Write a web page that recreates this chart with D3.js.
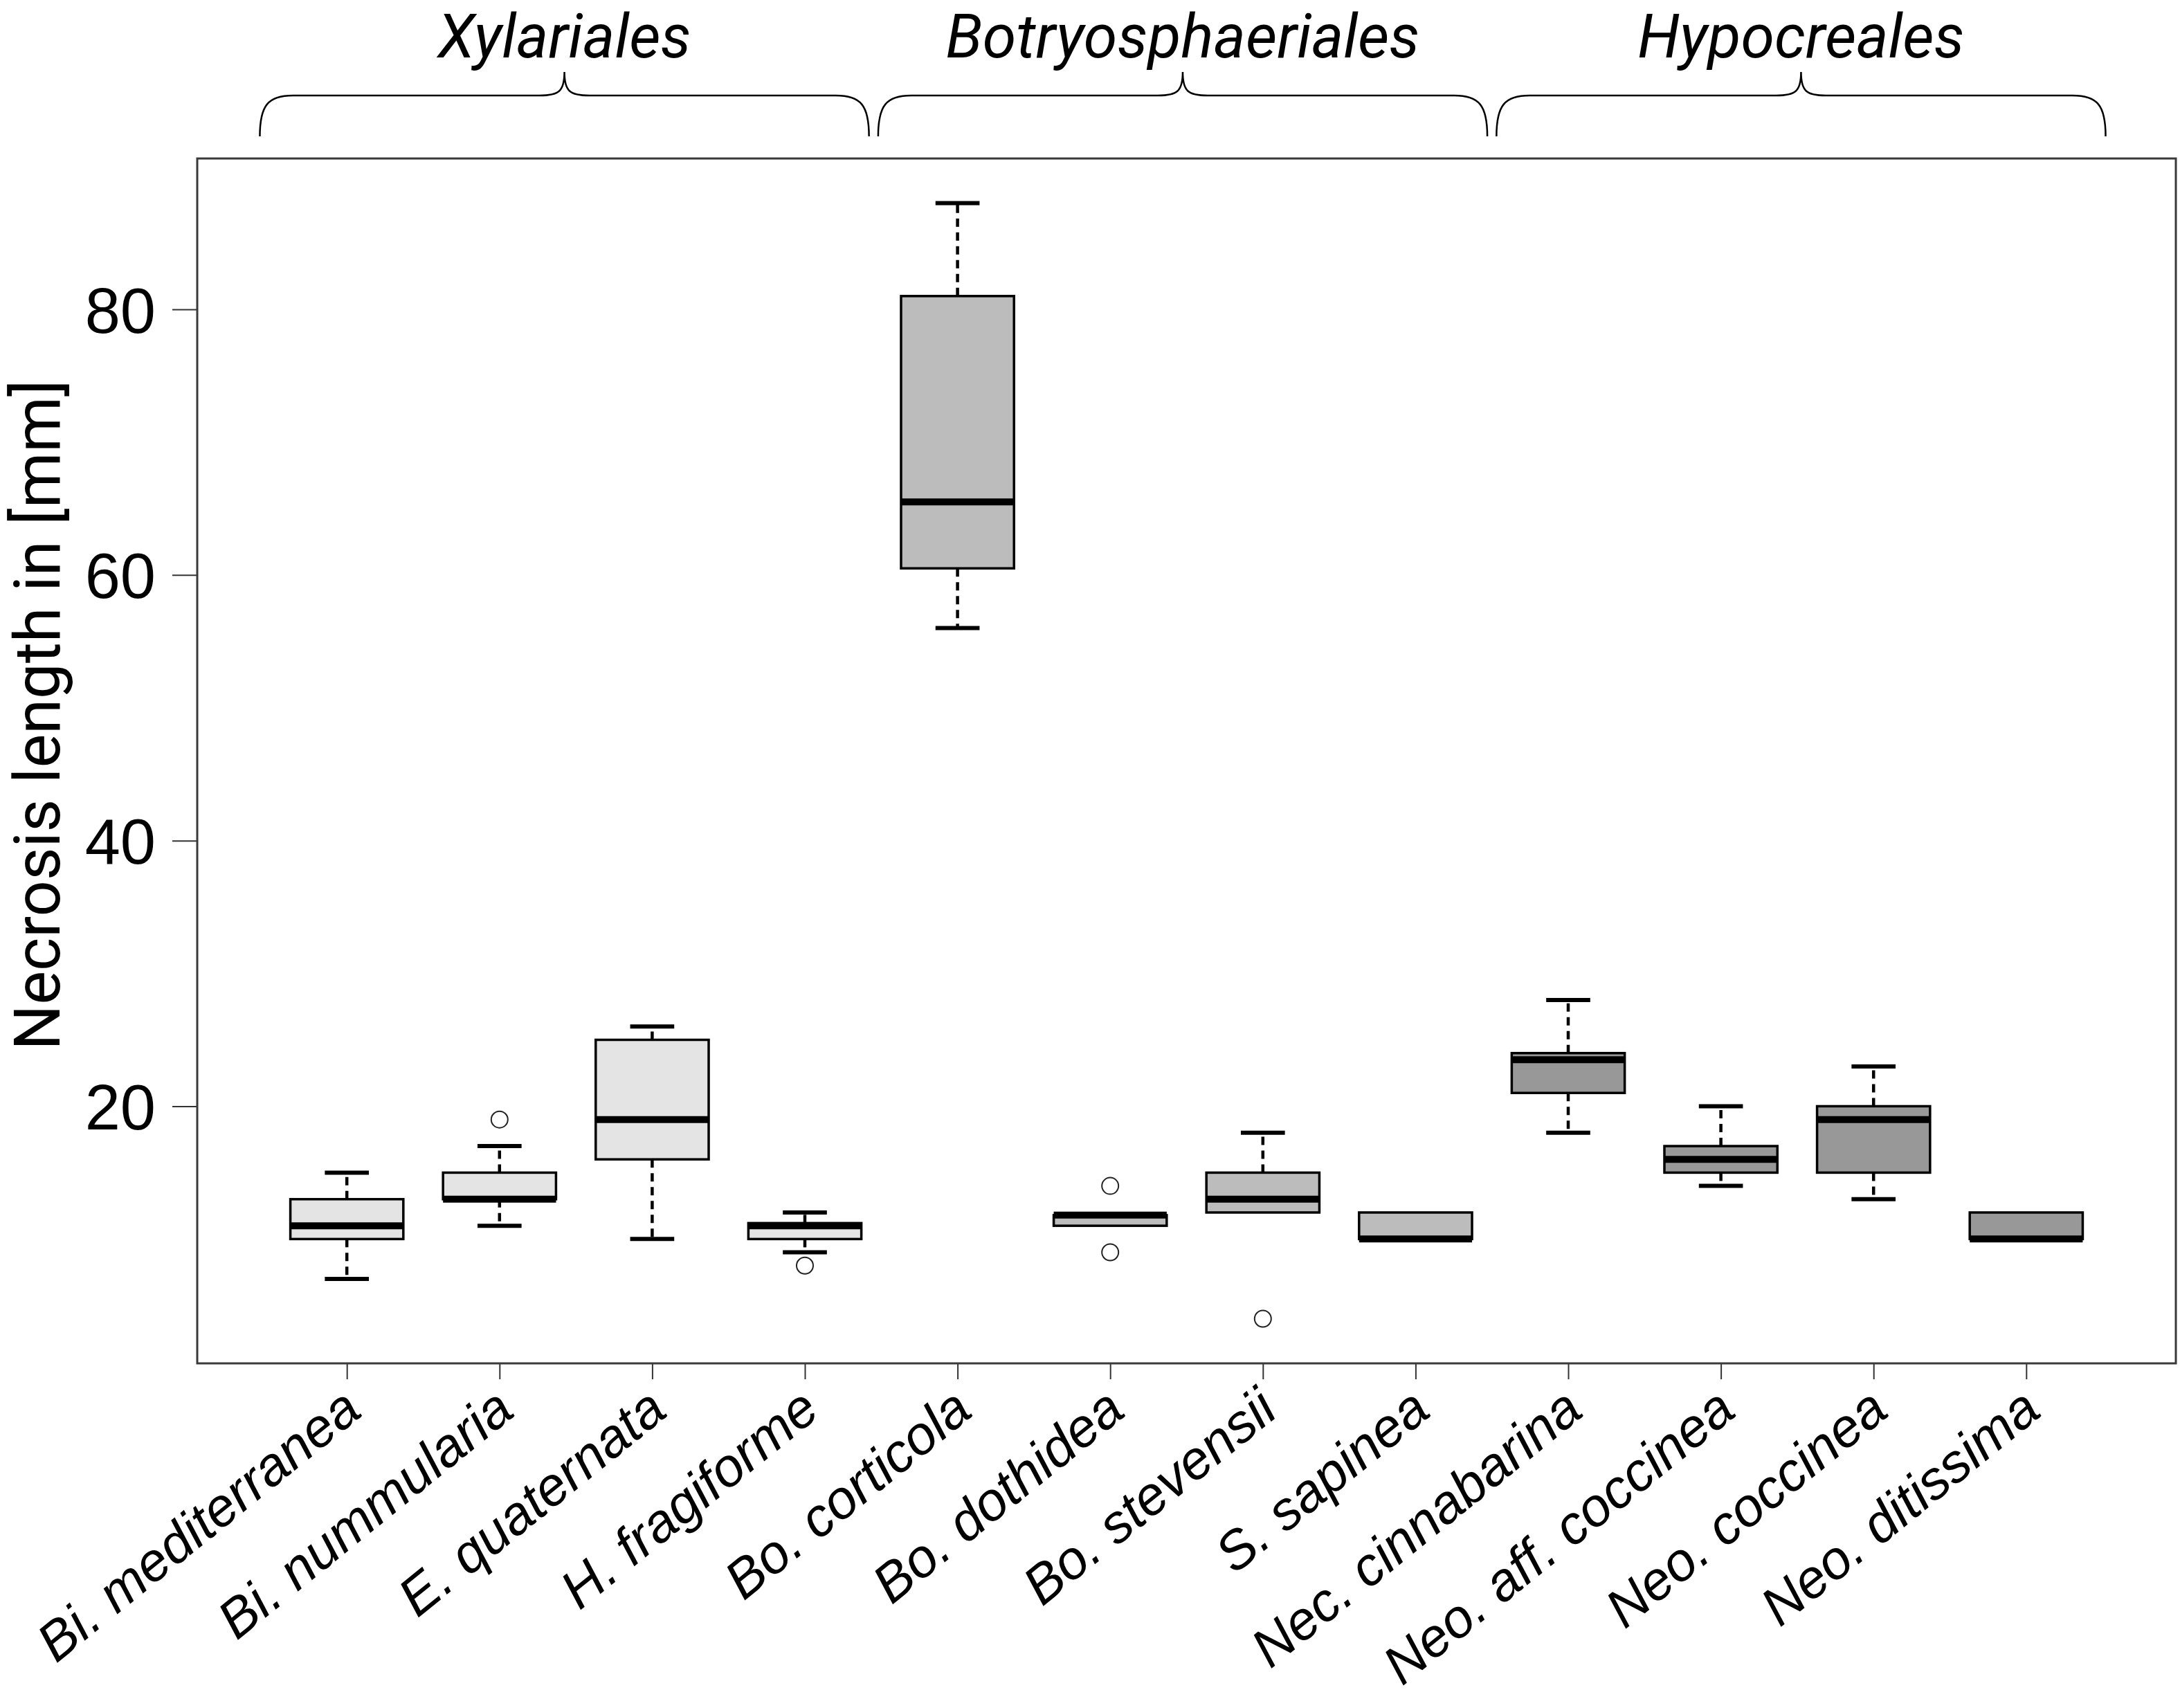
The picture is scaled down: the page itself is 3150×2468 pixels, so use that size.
<!DOCTYPE html>
<html>
<head>
<meta charset="utf-8">
<script src="https://cdn.jsdelivr.net/npm/d3@7"></script>
<style>
  html, body { margin: 0; padding: 0; background: #fff; }
  svg { display: block; font-family: Roboto, 'Noto Sans', sans-serif; }
</style>
</head>
<body>
<div id="chart"></div>
<script>
const SPECIES = [
  'Bi. mediterranea', 'Bi. nummularia', 'E. quaternata', 'H. fragiforme',
  'Bo. corticola', 'Bo. dothidea', 'Bo. stevensii', 'S. sapinea',
  'Nec. cinnabarina', 'Neo. aff. coccinea', 'Neo. coccinea', 'Neo. ditissima'
]
const SPECIES_ORDER = [0, 0, 0, 0, 1, 1, 1, 1, 2, 2, 2, 2]

// five-number summaries
const WHISKER_LOW  = [7, 11, 10, 9, 56, 11, 12, 10, 18, 14, 13, 10]
const Q1           = [10, 13, 16, 10, 60.5, 11, 12, 10, 21, 15, 15, 10]
const MEDIAN       = [11, 13, 19, 11, 65.5, 11.8, 13, 10, 23.5, 16, 19, 10]
const Q3           = [13, 15, 25, 11.2, 81, 11.8, 15, 12, 24, 17, 20, 12]
const WHISKER_HIGH = [15, 17, 26, 12, 88, 11.8, 18, 12, 28, 20, 23, 12]

const OUTLIER_SPECIES = [1, 3, 5, 5, 6]
const OUTLIER_VALUES  = [19, 8, 14, 9, 4]

const ORDERS = ['Xylariales', 'Botryosphaeriales', 'Hypocreales']
const ORDER_FILL = ['#e4e4e4', '#bcbcbc', '#989898']
// brace extent of each order, in category units
const ORDER_FROM = [0.43, 4.48, 8.53]
const ORDER_TO   = [4.42, 8.47, 12.52]

const Y_TICKS = [20, 40, 60, 80]

const SIZE = Object.freeze({ WIDTH: 3150, HEIGHT: 2468 }),
      PLOT = Object.freeze({ LEFT: 285, RIGHT: 3144, TOP: 229, BOTTOM: 1970 })

const n = SPECIES.length
const stats = SPECIES.map((name, i) => ({
  name,
  i: i + 1,
  order: SPECIES_ORDER[i],
  lo: WHISKER_LOW[i],
  q1: Q1[i],
  med: MEDIAN[i],
  q3: Q3[i],
  hi: WHISKER_HIGH[i]
}))
const outliers = OUTLIER_SPECIES.map((s, k) => ({ i: s + 1, v: OUTLIER_VALUES[k] }))

// R style limits: 4% padding around the data range
const xPad = 0.04 * n
const x = d3.scaleLinear()
  .domain([0.5 - xPad, n + 0.5 + xPad])
  .range([PLOT.LEFT, PLOT.RIGHT])

const allValues = WHISKER_LOW.concat(WHISKER_HIGH, OUTLIER_VALUES)
const [vMin, vMax] = d3.extent(allValues)
const yPad = 0.04 * (vMax - vMin)
const y = d3.scaleLinear()
  .domain([vMin - yPad, vMax + yPad])
  .range([PLOT.BOTTOM, PLOT.TOP])

const step = x(2) - x(1),
      boxW = step * 0.74,
      capW = boxW * 0.39

const svg = d3.select('#chart')
  .append('svg')
  .attr('width', SIZE.WIDTH)
  .attr('height', SIZE.HEIGHT)

svg.append('rect')
  .attr('width', SIZE.WIDTH)
  .attr('height', SIZE.HEIGHT)
  .attr('fill', '#fff')

// axes
const yAxis = d3.axisLeft(y)
  .tickValues(Y_TICKS)
  .tickSize(35)
  .tickPadding(24)

const gy = svg.append('g')
  .attr('transform', `translate(${PLOT.LEFT - 1},0)`)
  .call(yAxis)
gy.select('.domain').remove()
gy.selectAll('line').attr('stroke', '#333').attr('stroke-width', 2)
gy.selectAll('text')
  .attr('fill', '#000')
  .style('font-size', '92px')
  .attr('dy', '0.36em')

const xAxis = d3.axisBottom(x)
  .tickValues(d3.range(1, n + 1))
  .tickSize(23)
  .tickFormat(i => SPECIES[i - 1])

const gx = svg.append('g')
  .attr('transform', `translate(0,${PLOT.BOTTOM})`)
  .call(xAxis)
gx.select('.domain').remove()
gx.selectAll('line').attr('stroke', '#333').attr('stroke-width', 2)
gx.selectAll('text')
  .attr('fill', '#000')
  .attr('y', 0)
  .attr('dy', 0)
  .attr('text-anchor', 'end')
  .attr('transform', 'translate(24,74) rotate(-39)')
  .style('font-size', '78px')
  .style('font-style', 'italic')

svg.append('text')
  .attr('transform', `translate(86,1033) rotate(-90)`)
  .attr('text-anchor', 'middle')
  .style('font-size', '92px')
  .text('Necrosis length in [mm]')

// whiskers and caps
const whiskerParts = stats.flatMap(d => [
  { i: d.i, from: d.q3, to: d.hi },
  { i: d.i, from: d.q1, to: d.lo }
]).filter(w => w.from !== w.to)

svg.append('g')
  .selectAll('line')
  .data(whiskerParts)
  .join('line')
  .attr('x1', d => x(d.i))
  .attr('x2', d => x(d.i))
  .attr('y1', d => y(d.from))
  .attr('y2', d => y(d.to))
  .attr('stroke', '#000')
  .attr('stroke-width', 4.5)
  .attr('stroke-dasharray', '12,8')

svg.append('g')
  .selectAll('line')
  .data(whiskerParts)
  .join('line')
  .attr('x1', d => x(d.i) - capW / 2)
  .attr('x2', d => x(d.i) + capW / 2)
  .attr('y1', d => y(d.to))
  .attr('y2', d => y(d.to))
  .attr('stroke', '#000')
  .attr('stroke-width', 6)

// boxes and medians
const boxG = svg.append('g')
boxG.selectAll('rect')
  .data(stats)
  .join('rect')
  .attr('x', d => x(d.i) - boxW / 2)
  .attr('y', d => y(d.q3))
  .attr('width', boxW)
  .attr('height', d => y(d.q1) - y(d.q3))
  .attr('fill', d => ORDER_FILL[d.order])
  .attr('stroke', '#000')
  .attr('stroke-width', 3.5)

boxG.selectAll('line')
  .data(stats)
  .join('line')
  .attr('x1', d => x(d.i) - boxW / 2)
  .attr('x2', d => x(d.i) + boxW / 2)
  .attr('y1', d => y(d.med))
  .attr('y2', d => y(d.med))
  .attr('stroke', '#000')
  .attr('stroke-width', 10)

svg.append('g')
  .selectAll('circle')
  .data(outliers)
  .join('circle')
  .attr('cx', d => x(d.i))
  .attr('cy', d => y(d.v))
  .attr('r', 12)
  .attr('fill', 'none')
  .attr('stroke', '#222')
  .attr('stroke-width', 2)

// plot frame
svg.append('rect')
  .attr('x', PLOT.LEFT)
  .attr('y', PLOT.TOP)
  .attr('width', PLOT.RIGHT - PLOT.LEFT)
  .attr('height', PLOT.BOTTOM - PLOT.TOP)
  .attr('fill', 'none')
  .attr('stroke', '#3a3a3a')
  .attr('stroke-width', 3)

// order braces
const BRACE = { BOTTOM: 197, BAR: 138, PEAK: 104 }
const bracePath = (a, b) => {
  const x0 = x(a), x1 = x(b), xm = (x0 + x1) / 2
  const { BOTTOM: yb, BAR: yr, PEAK: yp } = BRACE
  return `M${x0},${yb} C${x0},${yr + 14} ${x0 + 12},${yr} ${x0 + 48},${yr}` +
    ` L${xm - 36},${yr} C${xm - 8},${yr} ${xm},${yr - 6} ${xm},${yp}` +
    ` C${xm},${yr - 6} ${xm + 8},${yr} ${xm + 36},${yr}` +
    ` L${x1 - 48},${yr} C${x1 - 12},${yr} ${x1},${yr + 14} ${x1},${yb}`
}
const orders = ORDERS.map((name, k) => ({ name, a: ORDER_FROM[k], b: ORDER_TO[k] }))

svg.append('g')
  .selectAll('path')
  .data(orders)
  .join('path')
  .attr('d', d => bracePath(d.a, d.b))
  .attr('fill', 'none')
  .attr('stroke', '#000')
  .attr('stroke-width', 2.5)

svg.append('g')
  .selectAll('text')
  .data(orders)
  .join('text')
  .attr('x', d => (x(d.a) + x(d.b)) / 2)
  .attr('y', 83)
  .attr('text-anchor', 'middle')
  .style('font-size', '88px')
  .style('font-style', 'italic')
  .text(d => d.name)
</script>
</body>
</html>
